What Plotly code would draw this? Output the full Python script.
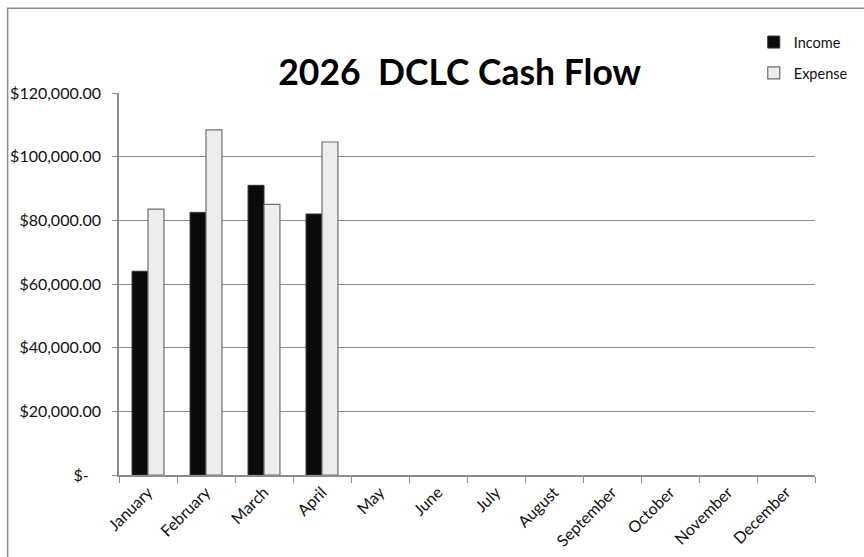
import plotly.graph_objects as go

months = ["January", "February", "March", "April", "May", "June", "July",
          "August", "September", "October", "November", "December"]
income = [64000, 82500, 91000, 82000, None, None, None, None, None, None, None, None]
expense = [83500, 108400, 85000, 104600, None, None, None, None, None, None, None, None]

tick_vals = [0, 20000, 40000, 60000, 80000, 100000, 120000]
tick_text = ["$-\u00a0\u00a0\u00a0", "$20,000.00", "$40,000.00", "$60,000.00",
             "$80,000.00", "$100,000.00", "$120,000.00"]

FONT = "Lato"

fig = go.Figure()
fig.add_trace(go.Bar(
    x=months, y=income, name="Income", legendgroup="inc",
    marker=dict(color="#0a0a0a", line=dict(color="#333333", width=1)),
))
fig.add_trace(go.Bar(
    x=months, y=expense, name="Expense", legendgroup="exp",
    marker=dict(color="#ededed", line=dict(color="#6e6e6e", width=1.2)),
))

fig.update_layout(
    width=864, height=557,
    margin=dict(l=119, r=49, t=93, b=82, autoexpand=False),
    paper_bgcolor="white", plot_bgcolor="white",
    barmode="group", bargap=0.45, bargroupgap=0,
    font=dict(family=FONT, color="#111111"),
    title=dict(text="<b>2026\u00a0\u00a0DCLC Cash Flow</b>", x=0.532, xanchor="center",
               y=0.87, yanchor="middle", font=dict(size=35.5, color="black", family=FONT)),
    legend=dict(x=0.912, y=1.175, xanchor="left", yanchor="top",
                font=dict(size=14.5, color="#111111"), traceorder="grouped",
                tracegroupgap=9, bgcolor="rgba(0,0,0,0)", itemwidth=30),
    showlegend=True,
)
fig.update_xaxes(
    showline=True, linecolor="#8c8c8c", linewidth=1.5,
    ticks="outside", ticklen=6, tickcolor="#8c8c8c", tickwidth=1.2,
    tickson="boundaries", tickangle=-45, tickfont=dict(size=16, color="#111111"),
    showgrid=False,
)
fig.update_yaxes(
    range=[0, 120000], tickvals=tick_vals, ticktext=tick_text,
    showline=True, linecolor="#8c8c8c", linewidth=1.5,
    ticks="outside", ticklen=5, tickcolor="#8c8c8c", ticklabelstandoff=8,
    showgrid=True, gridcolor="#8c8c8c", gridwidth=1.3,
    tickfont=dict(size=16, color="#111111"),
    zeroline=False,
)
fig.add_shape(type="rect", xref="paper", yref="paper",
              x0=-0.16, x1=1.2, y0=-0.4, y1=1.222,
              line=dict(color="#8c8c8c", width=1.5), fillcolor="rgba(0,0,0,0)", layer="below")

fig.write_html("out.html")
